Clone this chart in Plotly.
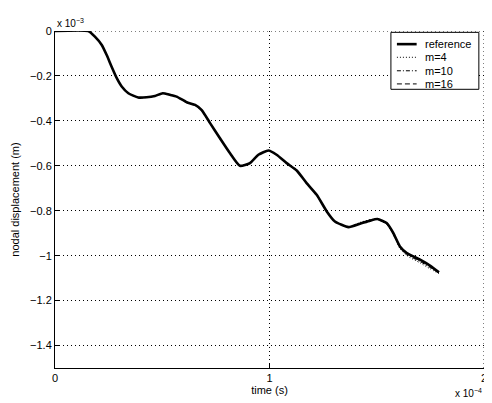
import plotly.graph_objects as go

# time in units of 1e-4 s, displacement in units of 1e-3 m
time_ref = [0.0, 0.155, 0.186, 0.218, 0.241, 0.264, 0.288, 0.311, 0.342, 0.388,
            0.427, 0.466, 0.502, 0.536, 0.567, 0.614, 0.653, 0.684, 0.723, 0.769,
            0.816, 0.862, 0.909, 0.948, 0.995, 1.033, 1.08, 1.127, 1.173, 1.22,
            1.267, 1.305, 1.368, 1.422, 1.469, 1.503, 1.546, 1.577, 1.608, 1.64,
            1.702, 1.748, 1.79]
disp_ref = [0.0, 0.0, -0.025, -0.062, -0.107, -0.159, -0.21, -0.247, -0.277, -0.296,
            -0.295, -0.289, -0.277, -0.284, -0.292, -0.317, -0.329, -0.352, -0.41, -0.477,
            -0.544, -0.60, -0.588, -0.551, -0.532, -0.551, -0.588, -0.621, -0.677, -0.729,
            -0.803, -0.848, -0.873, -0.858, -0.844, -0.837, -0.855, -0.899, -0.959, -0.988,
            -1.018, -1.044, -1.074]
disp_m4 = [0.0, 0.0, -0.025, -0.063, -0.108, -0.160, -0.211, -0.248, -0.278, -0.297,
           -0.296, -0.290, -0.279, -0.285, -0.294, -0.319, -0.331, -0.355, -0.413, -0.480,
           -0.546, -0.601, -0.589, -0.552, -0.533, -0.552, -0.590, -0.624, -0.680, -0.732,
           -0.805, -0.850, -0.872, -0.852, -0.840, -0.838, -0.860, -0.905, -0.968, -1.000,
           -1.032, -1.058, -1.080]
disp_m10 = [0.0, 0.0, -0.025, -0.062, -0.107, -0.159, -0.210, -0.247, -0.277, -0.296,
            -0.295, -0.289, -0.278, -0.284, -0.293, -0.318, -0.330, -0.353, -0.411, -0.478,
            -0.545, -0.600, -0.588, -0.551, -0.532, -0.551, -0.589, -0.622, -0.678, -0.730,
            -0.804, -0.849, -0.872, -0.855, -0.842, -0.838, -0.858, -0.903, -0.964, -0.995,
            -1.026, -1.052, -1.078]
disp_m16 = [0.0, 0.0, -0.025, -0.062, -0.107, -0.159, -0.210, -0.247, -0.277, -0.296,
            -0.295, -0.289, -0.277, -0.284, -0.292, -0.317, -0.329, -0.352, -0.410, -0.477,
            -0.544, -0.600, -0.588, -0.551, -0.532, -0.551, -0.588, -0.621, -0.677, -0.729,
            -0.803, -0.848, -0.873, -0.857, -0.843, -0.837, -0.856, -0.901, -0.962, -0.992,
            -1.022, -1.048, -1.076]

x_ticks = [0, 1, 2]
x_labels = ["0", "1", "2"]
y_ticks = [0, -0.2, -0.4, -0.6, -0.8, -1.0, -1.2, -1.4]
y_labels = ["0", "\u22120.2", "\u22120.4", "\u22120.6", "\u22120.8", "\u22121", "\u22121.2", "\u22121.4"]

series_names = ["reference", "m=4", "m=10", "m=16"]

FONT = "Liberation Sans, Arial, Helvetica, sans-serif"
GRID_DASH = "1px,3px"
styles = [("solid", 2.6), ("1px,2px", 1), ("4px,2px,1px,2px", 1), ("5px,3px", 1)]

fig = go.Figure()
for name, ys, (dash, w) in zip(series_names, [disp_ref, disp_m4, disp_m10, disp_m16], styles):
    fig.add_trace(go.Scatter(
        x=time_ref, y=ys, mode="lines", name=name, showlegend=False,
        line=dict(color="black", width=w, dash=dash, shape="spline", smoothing=0.5),
    ))

axis_common = dict(
    showgrid=True, gridcolor="black", gridwidth=1, griddash=GRID_DASH,
    zeroline=False, showline=True, linecolor="black", linewidth=1,
    ticks="inside", ticklen=4, tickcolor="black", automargin=False,
    tickfont=dict(family=FONT, size=11, color="black"),
)

fig.update_xaxes(range=[0, 2], tickvals=x_ticks, ticktext=x_labels,
                 title=dict(text="time (s)", font=dict(family=FONT, size=11, color="black"), standoff=0),
                 **axis_common)
fig.update_yaxes(range=[-1.5, 0], tickvals=y_ticks, ticktext=y_labels,
                 title=dict(text="nodal displacement (m)", font=dict(family=FONT, size=11, color="black"), standoff=8),
                 **axis_common)

# dotted grid on the open top and right edges (MATLAB box off)
fig.add_shape(type="line", xref="x", yref="y", x0=0, x1=2, y0=0, y1=0,
              line=dict(color="black", width=1, dash=GRID_DASH))
fig.add_shape(type="line", xref="x", yref="y", x0=2, x1=2, y0=-1.5, y1=0,
              line=dict(color="black", width=1, dash=GRID_DASH))

# compact MATLAB-style legend box (plotly's own legend rows are too tall)
fig.add_shape(type="rect", xref="paper", yref="paper", x0=0.783, x1=0.988, y0=0.827, y1=0.996,
              fillcolor="white", line=dict(color="black", width=1))
legend_rows = [0.961, 0.922, 0.882, 0.843]
for name, (dash, w), ry in zip(series_names, styles, legend_rows):
    fig.add_shape(type="line", xref="paper", yref="paper", x0=0.797, x1=0.843, y0=ry, y1=ry,
                  line=dict(color="black", width=w, dash=dash))
    fig.add_annotation(text=name, xref="paper", yref="paper", x=0.858, y=ry,
                       xanchor="left", yanchor="middle", showarrow=False,
                       font=dict(family=FONT, size=11, color="black"))

fig.add_annotation(text="x 10<sup>\u22123</sup>", xref="paper", yref="paper", x=0, y=1,
                   xanchor="left", yanchor="bottom", showarrow=False,
                   font=dict(family=FONT, size=10, color="black"))
fig.add_annotation(text="x 10<sup>\u22124</sup>", xref="paper", yref="paper", x=1.0, y=-0.05,
                   xanchor="right", yanchor="top", showarrow=False,
                   font=dict(family=FONT, size=10, color="black"))

# page body has an 8px margin, so the figure is 8px smaller and shifted
fig.update_layout(
    width=484, height=395,
    margin=dict(l=47, r=8, t=23, b=35),
    plot_bgcolor="white", paper_bgcolor="white",
    font=dict(family=FONT, size=11, color="black"),
    showlegend=False,
)

fig.write_html("out.html")
